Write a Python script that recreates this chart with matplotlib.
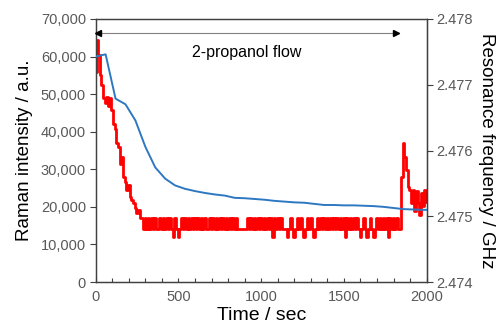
import matplotlib
matplotlib.use("Agg")
import matplotlib.pyplot as plt
import numpy as np

plt.rcParams['font.family'] = ['Liberation Sans', 'DejaVu Sans']

# Raman intensity (left axis), blue
blue_t = [0, 60, 120, 180, 240, 300, 360, 420, 480, 540, 600, 660, 720, 780,
          840, 900, 960, 1020, 1080, 1140, 1200, 1260, 1320, 1380, 1440, 1500,
          1560, 1620, 1680, 1740, 1800, 1860, 1920, 1980, 2000]
raman = [60000, 60600, 48800, 47300, 43000, 36000, 30500, 27500, 25700, 24800,
         24200, 23700, 23300, 23000, 22400, 22300, 22100, 21900, 21600, 21400,
         21200, 21100, 20800, 20500, 20500, 20400, 20400, 20300, 20200, 20000,
         19700, 19400, 19300, 19200, 19200]

# Resonance frequency (right axis), red, sampled every 10 s from 0 to 2000
red_t = list(range(0, 2001, 10))
freq = [
    # 0-270
    2.47720, 2.47768, 2.47745, 2.47715, 2.47700, 2.47680, 2.47672, 2.47682, 2.47668, 2.47680,
    2.47662, 2.47640, 2.47632, 2.47612, 2.47605, 2.47580, 2.47590, 2.47560, 2.47552, 2.47540,
    2.47548, 2.47530, 2.47524, 2.47520, 2.47512, 2.47505, 2.47510, 2.47497,
    # 280-370
    2.47497, 2.47480, 2.47497, 2.47480, 2.47497, 2.47480, 2.47497, 2.47480, 2.47497, 2.47480,
    # 380-470
    2.47480, 2.47497, 2.47480, 2.47497, 2.47480, 2.47497, 2.47480, 2.47497, 2.47480, 2.47468,
    # 480-570
    2.47497, 2.47480, 2.47468, 2.47480, 2.47497, 2.47480, 2.47497, 2.47480, 2.47497, 2.47480,
    # 580-670
    2.47497, 2.47480, 2.47497, 2.47480, 2.47497, 2.47480, 2.47497, 2.47480, 2.47497, 2.47480,
    # 680-770
    2.47480, 2.47497, 2.47480, 2.47497, 2.47480, 2.47497, 2.47480, 2.47497, 2.47480, 2.47497,
    # 780-870
    2.47480, 2.47497, 2.47480, 2.47497, 2.47480, 2.47497, 2.47480, 2.47497, 2.47480, 2.47480,
    # 880-970
    2.47480, 2.47480, 2.47480, 2.47480, 2.47497, 2.47480, 2.47497, 2.47480, 2.47497, 2.47480,
    # 980-1070
    2.47497, 2.47480, 2.47497, 2.47480, 2.47497, 2.47480, 2.47497, 2.47480, 2.47497, 2.47468,
    # 1080-1170
    2.47497, 2.47480, 2.47497, 2.47480, 2.47497, 2.47480, 2.47480, 2.47480, 2.47468, 2.47480,
    # 1180-1270
    2.47497, 2.47480, 2.47468, 2.47480, 2.47497, 2.47480, 2.47497, 2.47480, 2.47468, 2.47480,
    # 1280-1370
    2.47497, 2.47480, 2.47497, 2.47480, 2.47468, 2.47480, 2.47497, 2.47480, 2.47497, 2.47480,
    # 1380-1470
    2.47497, 2.47480, 2.47497, 2.47480, 2.47497, 2.47480, 2.47497, 2.47480, 2.47497, 2.47480,
    # 1480-1570
    2.47497, 2.47480, 2.47497, 2.47468, 2.47497, 2.47480, 2.47497, 2.47480, 2.47497, 2.47480,
    # 1580-1670
    2.47497, 2.47480, 2.47468, 2.47480, 2.47497, 2.47480, 2.47468, 2.47480, 2.47497, 2.47480,
    # 1680-1770
    2.47468, 2.47480, 2.47497, 2.47480, 2.47497, 2.47480, 2.47497, 2.47480, 2.47497, 2.47468,
    # 1780-1840
    2.47497, 2.47480, 2.47497, 2.47480, 2.47497, 2.47480, 2.47480,
    # 1850-2000
    2.47560, 2.47612, 2.47590, 2.47570, 2.47545, 2.47540, 2.47520, 2.47540, 2.47508, 2.47538,
    2.47520, 2.47502, 2.47535, 2.47515, 2.47540, 2.47522,
]

flow_label = "2-propanol flow"
flow_span = [0, 1830]

fig = plt.figure(figsize=(5.02, 3.31), dpi=100)
ax = fig.add_axes([0.1906, 0.148, 0.6594, 0.7946])
ax2 = ax.twinx()

ax.plot(blue_t, raman, color='#2E78C2', lw=1.4, zorder=3)
ax2.plot(red_t, freq, color='#FF0000', lw=2.0, zorder=2, drawstyle='steps-mid')

ax.set_zorder(ax2.get_zorder() + 1)
ax.patch.set_visible(False)

ax.set_xlim(0, 2000)
ax.set_ylim(0, 70000)
ax2.set_ylim(2.474, 2.478)

ax.set_yticks(np.arange(0, 70001, 10000))
ax.set_yticklabels([f"{v:,}" for v in range(0, 70001, 10000)])
ax2.set_yticks([2.474, 2.475, 2.476, 2.477, 2.478])
ax2.set_yticklabels(["2.474", "2.475", "2.476", "2.477", "2.478"])
ax.set_xticks([0, 500, 1000, 1500, 2000])
ax.set_xticks(np.arange(0, 2001, 100), minor=True)

lab_col = '#595959'
ax.tick_params(axis='y', direction='out', length=4, width=0.8, labelsize=10.5,
               labelcolor=lab_col, color='#404040', pad=3)
ax.tick_params(axis='x', which='both', direction='in', length=3, width=0.8,
               labelsize=10.5, labelcolor=lab_col, color='#404040', pad=6)
ax2.tick_params(axis='y', direction='out', length=4, width=0.8, labelsize=10.5,
                labelcolor=lab_col, color='#404040', pad=3)

for a in (ax, ax2):
    for s in a.spines.values():
        s.set_color('#404040')
        s.set_linewidth(0.9)
ax2.spines['right'].set_color('black')

ax.set_xlabel("Time / sec", fontsize=14, labelpad=2)
ax.set_ylabel("Raman intensity / a.u.", fontsize=13.5, labelpad=6)
ax2.set_ylabel("Resonance frequency / GHz", fontsize=13.5, rotation=270,
               labelpad=16)

# flow arrow
ax.plot(flow_span, [66300, 66300], color='#808080', lw=0.8, zorder=4)
ax.plot([flow_span[0] + 15], [66300], marker='<', color='black', ms=5, zorder=5,
        clip_on=False)
ax.plot([flow_span[1] - 15], [66300], marker='>', color='black', ms=5, zorder=5)
ax.text(910, 61200, flow_label, ha='center', va='center', fontsize=11.5,
        color='black', zorder=5)

fig.savefig("out.png", dpi=100)
